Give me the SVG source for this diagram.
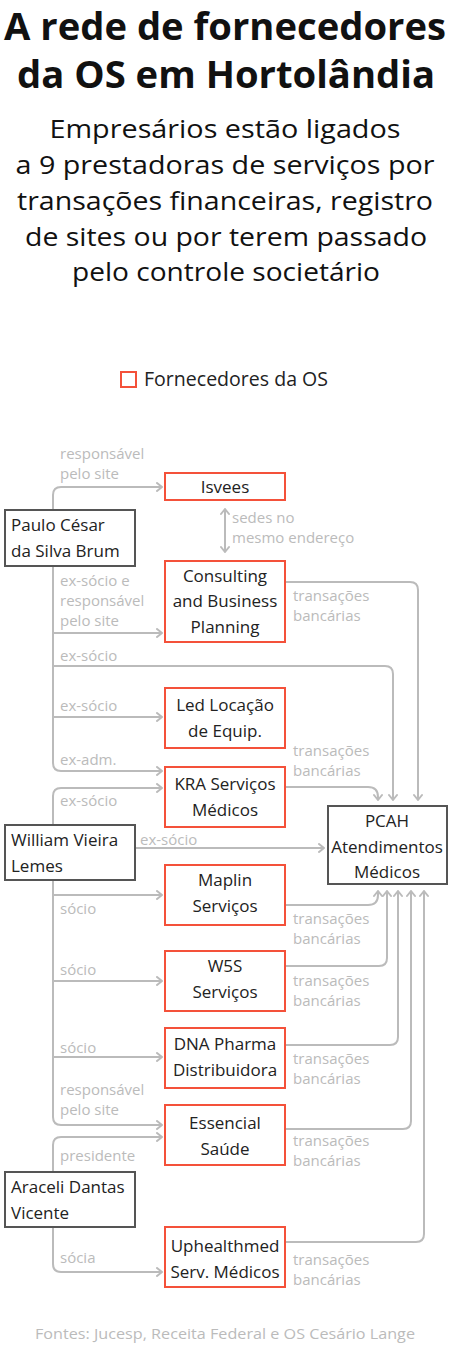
<svg xmlns="http://www.w3.org/2000/svg" width="450" height="1352" viewBox="0 0 450 1352">
<style>
text{font-family:"Open Sans","Noto Sans","Liberation Sans",sans-serif}
.title{font-size:37px;font-weight:700;fill:#111;text-anchor:middle}
.sub{font-size:26px;fill:#111;text-anchor:middle}
.leg{font-size:19.5px;fill:#222}
.n{font-size:17px;fill:#222;text-anchor:middle}
.p{font-size:17px;fill:#222}
.lab{font-size:15px;fill:#bbb}
.src{font-size:15px;fill:#bbb;text-anchor:middle}
.sup{fill:#fff;stroke:#f4513a;stroke-width:2}
.per{fill:#fff;stroke:#555;stroke-width:2}
.c{fill:none;stroke:#bbb;stroke-width:2}
.a{marker-end:url(#arr)}
</style>
<defs>
<marker id="arr" markerUnits="userSpaceOnUse" viewBox="-7 -5 8 10" markerWidth="8" markerHeight="10" refX="0" refY="0" orient="auto-start-reverse">
<path d="M-5,-4 L0,0 L-5,4" fill="none" stroke="#bbb" stroke-width="2" stroke-linecap="round" stroke-linejoin="round"/>
</marker>
</defs>
<rect width="450" height="1352" fill="#fff"/>
<g id="title">
<text class="title" x="225" y="40" textLength="442" lengthAdjust="spacingAndGlyphs">A rede de fornecedores</text>
<text class="title" x="226" y="88" textLength="418" lengthAdjust="spacingAndGlyphs">da OS em Hortolândia</text>
</g>
<g id="subtitle">
<text class="sub" x="225" y="138" textLength="351" lengthAdjust="spacingAndGlyphs">Empresários estão ligados</text>
<text class="sub" x="225" y="174" textLength="419" lengthAdjust="spacingAndGlyphs">a 9 prestadoras de serviços por</text>
<text class="sub" x="225" y="210" textLength="416" lengthAdjust="spacingAndGlyphs">transações financeiras, registro</text>
<text class="sub" x="226" y="246" textLength="402" lengthAdjust="spacingAndGlyphs">de sites ou por terem passado</text>
<text class="sub" x="226" y="281" textLength="308" lengthAdjust="spacingAndGlyphs">pelo controle societário</text>
</g>
<g id="legend">
<rect x="121" y="372" width="15" height="15" class="sup"/>
<text class="leg" x="144" y="386" textLength="184" lengthAdjust="spacingAndGlyphs">Fornecedores da OS</text>
</g>
<g id="connectors">
<path class="c a" d="M53,510 V495 Q53,487 61,487 H162"/>
<path class="c a" d="M53,566 V763 Q53,771 61,771 H162"/>
<path class="c a" d="M53,633 H162"/>
<path class="c a" d="M53,666 H385 Q393,666 393,674 V800"/>
<path class="c a" d="M53,717 H162"/>
<path class="c a" d="M285,582 H410 Q418,582 418,590 V800"/>
<path class="c a" d="M285,787 H368 Q378,787 378,797 V800"/>
<path class="c a" d="M53,825 V796 Q53,788 61,788 H162"/>
<path class="c a" d="M135,848 H324"/>
<path class="c a" d="M53,880 V1117 Q53,1125 61,1125 H162"/>
<path class="c a" d="M53,895 H162"/>
<path class="c a" d="M53,981 H162"/>
<path class="c a" d="M53,1057 H162"/>
<path class="c a" d="M285,905 H368 Q378,905 378,895 V891"/>
<path class="c a" d="M285,966 H379 Q387,966 387,958 V891"/>
<path class="c a" d="M285,1045 H390 Q398,1045 398,1037 V891"/>
<path class="c a" d="M285,1129 H403 Q411,1129 411,1121 V891"/>
<path class="c a" d="M285,1242 H416 Q424,1242 424,1234 V891"/>
<path class="c a" d="M53,1172 V1145 Q53,1137 61,1137 H162"/>
<path class="c a" d="M53,1227 V1264 Q53,1272 61,1272 H162"/>
<path class="c a" d="M225,509 V552" marker-start="url(#arr)"/>
<text class="lab" x="60" y="459">responsável</text>
<text class="lab" x="60" y="479">pelo site</text>
<text class="lab" x="232" y="523">sedes no</text>
<text class="lab" x="232" y="543">mesmo endereço</text>
<text class="lab" x="60" y="586">ex-sócio e</text>
<text class="lab" x="60" y="606">responsável</text>
<text class="lab" x="60" y="626">pelo site</text>
<text class="lab" x="293" y="601">transações</text>
<text class="lab" x="293" y="621">bancárias</text>
<text class="lab" x="60" y="661">ex-sócio</text>
<text class="lab" x="60" y="711">ex-sócio</text>
<text class="lab" x="60" y="765">ex-adm.</text>
<text class="lab" x="293" y="756">transações</text>
<text class="lab" x="293" y="776">bancárias</text>
<text class="lab" x="60" y="806">ex-sócio</text>
<text class="lab" x="140" y="845">ex-sócio</text>
<text class="lab" x="60" y="914">sócio</text>
<text class="lab" x="293" y="924">transações</text>
<text class="lab" x="293" y="944">bancárias</text>
<text class="lab" x="60" y="975">sócio</text>
<text class="lab" x="293" y="986">transações</text>
<text class="lab" x="293" y="1006">bancárias</text>
<text class="lab" x="60" y="1053">sócio</text>
<text class="lab" x="293" y="1064">transações</text>
<text class="lab" x="293" y="1084">bancárias</text>
<text class="lab" x="60" y="1095">responsável</text>
<text class="lab" x="60" y="1115">pelo site</text>
<text class="lab" x="293" y="1146">transações</text>
<text class="lab" x="293" y="1166">bancárias</text>
<text class="lab" x="60" y="1161">presidente</text>
<text class="lab" x="60" y="1263">sócia</text>
<text class="lab" x="293" y="1265">transações</text>
<text class="lab" x="293" y="1285">bancárias</text>
</g>
<g id="isvees"><rect class="sup" x="165" y="473" width="120" height="27"/><text class="n" x="225" y="493">Isvees</text></g>
<g id="paulo"><rect class="per" x="5" y="510" width="130" height="56"/><text class="p" x="11" y="531">Paulo César</text><text class="p" x="11" y="557">da Silva Brum</text></g>
<g id="consulting"><rect class="sup" x="165" y="561" width="120" height="81"/><text class="n" x="225" y="582">Consulting</text><text class="n" x="225" y="607">and Business</text><text class="n" x="225" y="633">Planning</text></g>
<g id="led"><rect class="sup" x="165" y="688" width="120" height="60"/><text class="n" x="225" y="711">Led Locação</text><text class="n" x="225" y="737">de Equip.</text></g>
<g id="kra"><rect class="sup" x="165" y="767" width="120" height="60"/><text class="n" x="225" y="790">KRA Serviços</text><text class="n" x="225" y="816">Médicos</text></g>
<g id="william"><rect class="per" x="5" y="825" width="130" height="55"/><text class="p" x="11" y="846">William Vieira</text><text class="p" x="11" y="872">Lemes</text></g>
<g id="pcah"><rect class="per" x="328" y="806" width="119" height="78"/><text class="n" x="387" y="827">PCAH</text><text class="n" x="387" y="853">Atendimentos</text><text class="n" x="387" y="878">Médicos</text></g>
<g id="maplin"><rect class="sup" x="165" y="865" width="120" height="60"/><text class="n" x="225" y="886">Maplin</text><text class="n" x="225" y="912">Serviços</text></g>
<g id="w5s"><rect class="sup" x="165" y="951" width="120" height="60"/><text class="n" x="225" y="972">W5S</text><text class="n" x="225" y="998">Serviços</text></g>
<g id="dna"><rect class="sup" x="165" y="1028" width="120" height="60"/><text class="n" x="225" y="1050">DNA Pharma</text><text class="n" x="225" y="1076">Distribuidora</text></g>
<g id="essencial"><rect class="sup" x="165" y="1105" width="120" height="60"/><text class="n" x="225" y="1129">Essencial</text><text class="n" x="225" y="1155">Saúde</text></g>
<g id="araceli"><rect class="per" x="5" y="1172" width="130" height="55"/><text class="p" x="11" y="1193">Araceli Dantas</text><text class="p" x="11" y="1219">Vicente</text></g>
<g id="uphealthmed"><rect class="sup" x="165" y="1227" width="120" height="60"/><text class="n" x="225" y="1252">Uphealthmed</text><text class="n" x="225" y="1278">Serv. Médicos</text></g>
<text class="src" x="225" y="1339" textLength="380" lengthAdjust="spacingAndGlyphs">Fontes: Jucesp, Receita Federal e OS Cesário Lange</text>
</svg>
